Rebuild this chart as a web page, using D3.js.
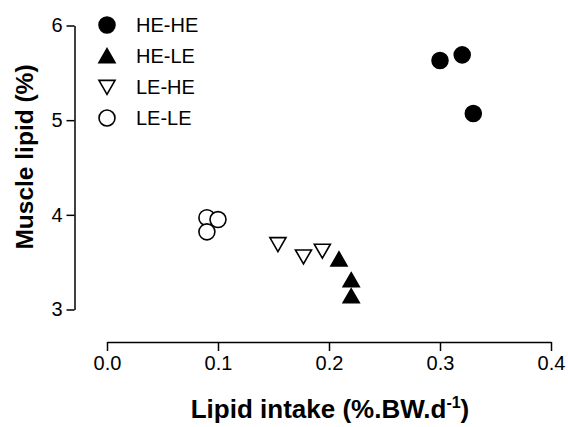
<!DOCTYPE html>
<html>
<head>
<meta charset="utf-8">
<script src="https://cdn.jsdelivr.net/npm/d3@7"></script>
<style>
  body { margin: 0; background: #fff; }
  svg { font-family: "Liberation Sans", Arial, sans-serif; }
</style>
</head>
<body>
<div id="chart"></div>
<script>
// groups and their points (lipid intake, muscle lipid)
var groups = ["HE-HE", "HE-LE", "LE-HE", "LE-LE"];
var heheX = [0.30, 0.32, 0.33];
var heheY = [5.63, 5.69, 5.07];
var heleX = [0.209, 0.22, 0.22];
var heleY = [3.51, 3.29, 3.12];
var leheX = [0.154, 0.177, 0.194];
var leheY = [3.71, 3.58, 3.64];
var leleX = [0.09, 0.10, 0.09];
var leleY = [3.97, 3.95, 3.82];
var xTicks = [0.0, 0.1, 0.2, 0.3, 0.4];
var yTicks = [3, 4, 5, 6];

var W = 568, H = 427;
var svg = d3.select("#chart").append("svg")
  .attr("width", W).attr("height", H);

var x = d3.scaleLinear().domain([0, 0.4]).range([107, 551]);
var y = d3.scaleLinear().domain([3, 6]).range([309.5, 25.5]);

// x axis (offset below the plot)
var gx = svg.append("g")
  .attr("transform", "translate(0,342)")
  .call(d3.axisBottom(x).tickValues(xTicks).tickFormat(d3.format(".1f")).tickSize(9).tickSizeOuter(0).tickPadding(5));
gx.select(".domain").attr("stroke-width", 1.5);
gx.selectAll(".tick line").attr("stroke-width", 1.5);
gx.selectAll("text").style("font-size", "20px").attr("fill", "#000");

var gy = svg.append("g")
  .attr("transform", "translate(74.5,0)")
  .call(d3.axisLeft(y).tickValues(yTicks).tickFormat(d3.format("d")).tickSize(8).tickSizeOuter(0).tickPadding(4));
gy.select(".domain").attr("stroke-width", 1.5);
gy.selectAll(".tick line").attr("stroke-width", 1.5);
gy.selectAll("text").style("font-size", "20px").attr("fill", "#000");

// axis titles
var xt = svg.append("text")
  .attr("x", 330).attr("y", 418)
  .attr("text-anchor", "middle")
  .style("font-size", "26px").style("font-weight", "bold");
xt.append("tspan").text("Lipid intake (%.BW.d");
xt.append("tspan").attr("dy", -10).style("font-size", "16px").text("-1");
xt.append("tspan").attr("dy", 10).text(")");

svg.append("text")
  .attr("transform", "translate(33,157) rotate(-90)")
  .attr("text-anchor", "middle")
  .style("font-size", "24.5px").style("font-weight", "bold")
  .text("Muscle lipid (%)");

// symbols
var circ = d3.symbol().type(d3.symbolCircle).size(200);
var tri = d3.symbol().type(d3.symbolTriangle).size(112);

function pts(xs, ys) {
  return xs.map(function (v, i) { return { x: v, y: ys[i] }; });
}

var styles = [
  { name: groups[0], data: pts(heheX, heheY), sym: circ, fill: "#000", rot: 0 },
  { name: groups[1], data: pts(heleX, heleY), sym: tri, fill: "#000", rot: 0 },
  { name: groups[2], data: pts(leheX, leheY), sym: tri, fill: "#fff", rot: 180 },
  { name: groups[3], data: pts(leleX, leleY), sym: circ, fill: "#fff", rot: 0 }
];

styles.forEach(function (s) {
  svg.selectAll(null)
    .data(s.data)
    .enter()
    .append("path")
    .attr("d", s.sym)
    .attr("transform", function (d) {
      return "translate(" + x(d.x) + "," + y(d.y) + ") rotate(" + s.rot + ")";
    })
    .attr("fill", s.fill)
    .attr("stroke", "#000")
    .attr("stroke-width", 1.6);
});

// legend
var legY = [25, 56, 87, 118];
var legDy = [0, 2, -2, 0];
var leg = svg.append("g");
styles.forEach(function (s, i) {
  leg.append("path")
    .attr("d", s.sym)
    .attr("transform", "translate(107," + (legY[i] + legDy[i]) + ") rotate(" + s.rot + ")")
    .attr("fill", s.fill)
    .attr("stroke", "#000")
    .attr("stroke-width", 1.6);
  leg.append("text")
    .attr("x", 136).attr("y", legY[i] + 7)
    .style("font-size", "20px")
    .text(s.name);
});
</script>
</body>
</html>
